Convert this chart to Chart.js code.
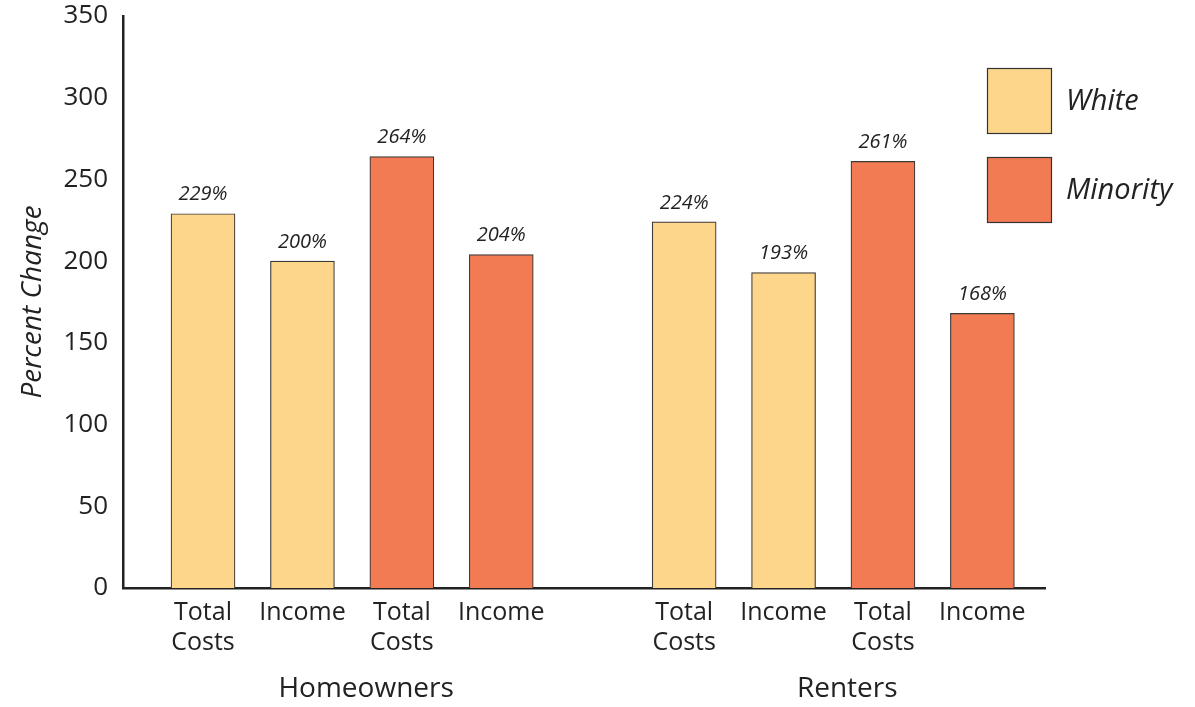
<!DOCTYPE html>
<html>
<head>
<meta charset="utf-8">
<script src="https://cdn.jsdelivr.net/npm/chart.js@4.4.0/dist/chart.umd.min.js"></script>
<style>
  html, body { margin: 0; padding: 0; background: #fff; }
  #wrap { width: 1195px; height: 707px; }
</style>
</head>
<body>
<div id="wrap"><canvas id="costs_canvas"></canvas></div>
<script>
// groups along the x axis and the four bars inside each
var groups = ['Homeowners', 'Renters'];
var measures = [['Total', 'Costs'], 'Income', ['Total', 'Costs'], 'Income'];

// percent change, per group: [Total Costs, Income]
var whiteValues = [229, 200, 224, 193];
var minorityValues = [264, 204, 261, 168];

var yTicks = [0, 50, 100, 150, 200, 250, 300, 350];

var groupStride = 4.84;   // slot distance between first bars of each group
var fontFamily = '"Open Sans", "DejaVu Sans", sans-serif';

function slot(g, i) {
    return g * groupStride + i + 1;
}

// build point lists: white bars sit in slots 0-1, minority in slots 2-3
var whitePoints = [], minorityPoints = [], tickSlots = [];
for (var g = 0; g < groups.length; g++) {
    whitePoints.push({x: slot(g, 0), y: whiteValues[g * 2]});
    whitePoints.push({x: slot(g, 1), y: whiteValues[g * 2 + 1]});
    minorityPoints.push({x: slot(g, 2), y: minorityValues[g * 2]});
    minorityPoints.push({x: slot(g, 3), y: minorityValues[g * 2 + 1]});
    for (var i = 0; i < 4; i++) tickSlots.push(slot(g, i));
}
var groupCenters = groups.map(function(name, g){ return slot(g, 1.5); });

// little % labels over every bar
var valueLabels = {
    id: 'valueLabels',
    afterDatasetsDraw: function(chart) {
        var ctx = chart.ctx;
        ctx.save();
        ctx.font = 'italic 20px ' + fontFamily;
        ctx.fillStyle = '#222';
        ctx.textAlign = 'center';
        ctx.textBaseline = 'bottom';
        chart.data.datasets.forEach(function(ds, di){
            chart.getDatasetMeta(di).data.forEach(function(bar, j){
                ctx.fillText(ds.data[j].y + '%', bar.x, bar.y - 9);
            });
        });
        ctx.restore();
    }
};

// square swatch legend up in the right corner
var boxLegend = {
    id: 'boxLegend',
    afterDraw: function(chart) {
        var ctx = chart.ctx;
        ctx.save();
        ctx.font = 'italic 29px ' + fontFamily;
        ctx.textBaseline = 'middle';
        chart.data.datasets.forEach(function(ds, di){
            var top = 68 + di * 89;
            ctx.fillStyle = ds.backgroundColor;
            ctx.fillRect(987, top, 64, 65);
            ctx.strokeStyle = '#333';
            ctx.lineWidth = 1.2;
            ctx.strokeRect(987.5, top + 0.5, 64, 65);
            ctx.fillStyle = '#222';
            ctx.textAlign = 'left';
            ctx.fillText(ds.label, 1066, top + 34);
        });
        ctx.restore();
    }
};

var chartdata = {
    datasets: [
        {
            label: 'White',
            data: whitePoints,
            backgroundColor: '#FDD68C',
            borderColor: '#3a3a3a',
            borderWidth: 1.2
        },
        {
            label: 'Minority',
            data: minorityPoints,
            backgroundColor: '#F37B54',
            borderColor: '#3a3a3a',
            borderWidth: 1.2
        }
    ]
};

var options = {
    responsive: true,
    maintainAspectRatio: false,
    animation: false,
    layout: { padding: { top: 16, right: 150, left: 0, bottom: 0 } },
    barThickness: 64,
    grouped: false,
    plugins: {
        legend: { display: false },
        tooltip: { enabled: false }
    },
    scales: {
        x: {
            type: 'linear',
            position: 'bottom',
            offset: false,
            min: 0.195,
            max: 9.47,
            grid: { display: false, drawTicks: false, offset: false },
            border: { display: true, color: '#222', width: 2.5 },
            afterBuildTicks: function(scale) {
                scale.ticks = tickSlots.map(function(v){ return {value: v}; });
            },
            afterFit: function(scale) {
                scale.height = 72;
                scale.paddingLeft = 0;
                scale.paddingRight = 0;
            },
            ticks: {
                autoSkip: false,
                maxRotation: 0,
                padding: 10,
                color: '#222',
                font: { family: fontFamily, size: 25 },
                callback: function(value, index) { return measures[index % 4]; }
            }
        },
        x2: {
            type: 'linear',
            position: 'bottom',
            offset: false,
            min: 0.195,
            max: 9.47,
            grid: { display: false, drawTicks: false, offset: false },
            border: { display: false },
            afterBuildTicks: function(scale) {
                scale.ticks = groupCenters.map(function(v){ return {value: v}; });
            },
            afterFit: function(scale) {
                scale.height = 47;
                scale.paddingLeft = 0;
                scale.paddingRight = 0;
            },
            ticks: {
                autoSkip: false,
                maxRotation: 0,
                padding: 12,
                labelOffset: 14,
                color: '#222',
                font: { family: fontFamily, size: 28 },
                callback: function(value, index) { return groups[index]; }
            }
        },
        y: {
            min: 0,
            max: 350,
            grid: { display: false, drawTicks: false },
            border: { display: true, color: '#222', width: 2.5 },
            afterBuildTicks: function(scale) {
                scale.ticks = yTicks.map(function(v){ return {value: v}; });
            },
            afterFit: function(scale) {
                scale.width = 123;
                scale.paddingTop = 0;
                scale.paddingBottom = 0;
            },
            ticks: {
                padding: 15,
                color: '#222',
                font: { family: fontFamily, size: 26 }
            },
            title: {
                display: true,
                text: 'Percent Change',
                color: '#222',
                padding: { top: 16, bottom: 0 },
                font: { family: fontFamily, size: 28, style: 'italic' }
            }
        }
    }
};

var ctx1 = document.getElementById('costs_canvas');
var chart = new Chart(ctx1, {
    type: 'bar',
    data: chartdata,
    options: options,
    plugins: [valueLabels, boxLegend]
});
</script>
</body>
</html>
